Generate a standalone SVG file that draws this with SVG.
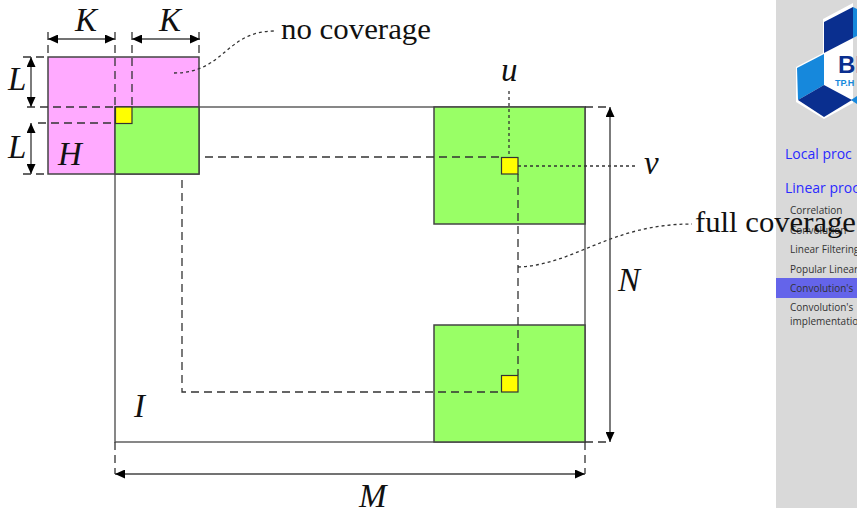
<svg xmlns="http://www.w3.org/2000/svg" width="857" height="508" viewBox="0 0 857 508">
<style>
.box{stroke:#444;stroke-width:1.5}
.line{fill:none;stroke:#555;stroke-width:1.4}
.dash{fill:none;stroke:#333;stroke-width:1.3;stroke-dasharray:8 5}
.dot{fill:none;stroke:#333;stroke-width:1.3;stroke-dasharray:3 3}
.dim{fill:none;stroke:#444;stroke-width:1.4;marker-start:url(#a);marker-end:url(#a)}
.m{font-family:"Liberation Serif",serif;font-style:italic;font-size:33px;fill:#111}
.t{font-family:"Liberation Serif",serif;font-size:29px;fill:#111}
.nav{font-family:"Open Sans",sans-serif;font-size:14px;fill:#2a2aff}
.sub{font-family:"Open Sans",sans-serif;font-size:10px;fill:#333}
</style>
<defs>
<marker id="a" viewBox="0 0 10 10" refX="10" refY="5" markerWidth="10" markerHeight="9" preserveAspectRatio="none" markerUnits="userSpaceOnUse" orient="auto-start-reverse"><path d="M0 0L10 5L0 10z" fill="#000"/></marker>
</defs>
<rect x="0" y="0" width="857" height="508" fill="#fff"/>
<g id="sidebar">
<rect x="776" y="0" width="81" height="508" fill="#d9d9d9"/>
<polygon points="853,3 823,19 823,53 796,67 796,102 824,119 853,103" fill="#fff"/>
<polygon points="824,22 853,7 853,38 824,53" fill="#0a2f8f"/>
<polygon points="797,68 824,54 824,85 798,100" fill="#1688dc"/>
<polygon points="798,100 824,85 852,100 824,117" fill="#0a2f8f"/>
<polygon points="853,7 857,9 857,36 853,38" fill="#1688dc"/>
<polygon points="851,100 857,96 857,104" fill="#1688dc"/>
<text x="838" y="73" font-family="Liberation Sans,sans-serif" font-weight="700" font-size="24" fill="#0a2f8f">BI</text>
<text x="835" y="86" font-family="Liberation Sans,sans-serif" font-weight="700" font-size="9" fill="#1688dc">TP.H</text>
<rect x="776" y="278" width="81" height="20" fill="#6464ea"/>
<text class="nav" x="785" y="159">Local proc</text>
<text class="nav" x="785" y="193">Linear proc</text>
<text class="sub" x="790" y="214">Correlation</text>
<text class="sub" x="790" y="234">Convolution</text>
<text class="sub" x="790" y="253">Linear Filtering</text>
<text class="sub" x="790" y="273">Popular Linear</text>
<text class="sub" x="790" y="292">Convolution's</text>
<text class="sub" x="790" y="311">Convolution's</text>
<text class="sub" x="790" y="325">implementation</text>
</g>
<g id="window-H">
<rect class="box" x="48" y="57" width="151" height="117" fill="#ffaaff"/>
</g>
<g id="image-I">
<rect class="line" x="115" y="107" width="470" height="335"/>
</g>
<g id="overlap-topleft">
<rect class="box" x="115" y="107" width="84" height="67" fill="#99ff66"/>
</g>
<g id="overlap-topright">
<rect class="box" x="434" y="107" width="151" height="117" fill="#99ff66"/>
</g>
<g id="overlap-bottomright">
<rect class="box" x="434" y="325" width="151" height="117" fill="#99ff66"/>
</g>
<g id="connectors">
<path class="dash" d="M115 32V107M132 32V107M48 32V57M199 32V57"/>
<path class="dash" d="M23 57H48M23 174H48M27 107H115M38 123H115"/>
<path class="dash" d="M205 157H501M518 174V375M182 180V392H501"/>
<path class="dash" d="M585 107H610M585 442H610M115 442V474M585 442V474"/>
<path class="dot" d="M509 91V157M518 166H638"/>
<path class="dot" d="M174 73C225 73 225 31 275 31"/>
<path class="dot" d="M518 267C575 265 610 224 692 224"/>
<path class="dim" d="M48 39H115"/>
<path class="dim" d="M132 39H200"/>
<path class="dim" d="M31 57V107"/>
<path class="dim" d="M31 123V174"/>
<path class="dim" d="M610 107V442"/>
<path class="dim" d="M115 474H585"/>
</g>
<g id="pixel-1"><rect x="115.500" y="107" width="16.500" height="16.500" fill="#ffff00" stroke="#333" stroke-width="1.200"/></g>
<g id="pixel-2"><rect x="501.500" y="157.500" width="16.500" height="16.500" fill="#ffff00" stroke="#333" stroke-width="1.200"/></g>
<g id="pixel-3"><rect x="501.500" y="375.500" width="16.500" height="16.500" fill="#ffff00" stroke="#333" stroke-width="1.200"/></g>
<g id="labels">
<text class="m" x="75" y="31">K</text>
<text class="m" x="159" y="31">K</text>
<text class="m" x="8" y="90">L</text>
<text class="m" x="8" y="158">L</text>
<text class="m" x="58" y="165">H</text>
<text class="m" x="134" y="417">I</text>
<text class="m" x="618" y="291">N</text>
<text class="m" x="359" y="507">M</text>
<text class="m" x="501" y="81">u</text>
<text class="m" x="644" y="174">v</text>
<text class="t" x="281" y="39" textLength="150" lengthAdjust="spacingAndGlyphs">no coverage</text>
<text class="t" x="695" y="232" textLength="161" lengthAdjust="spacingAndGlyphs">full coverage</text>
</g>
</svg>
